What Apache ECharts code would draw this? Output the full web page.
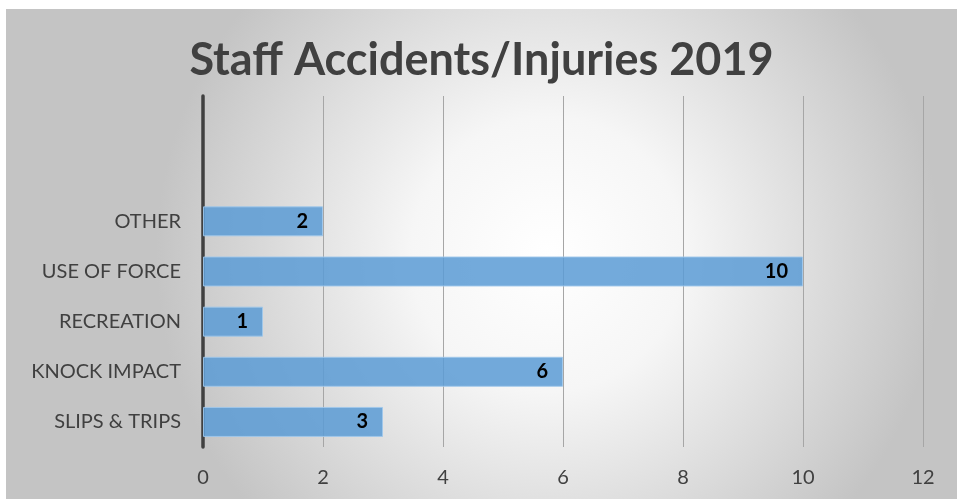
<!DOCTYPE html>
<html>
<head>
<meta charset="utf-8">
<script src="https://cdn.jsdelivr.net/npm/echarts@6/dist/echarts.min.js"></script>
<style>
  html, body { margin: 0; padding: 0; background: #fff; }
  #chart { position: absolute; left: 6px; top: 9px; width: 951px; height: 490px; }
</style>
</head>
<body>
<div id="chart"></div>
<script>
const categories = ['SLIPS & TRIPS', 'KNOCK IMPACT', 'RECREATION', 'USE OF FORCE', 'OTHER', '', ''];
const values = [3, 6, 1, 10, 2, null, null];
const xTicks = [0, 2, 4, 6, 8, 10, 12];

var myChart = echarts.init(document.getElementById('chart'));
myChart.setOption({
  backgroundColor: {
    type: 'radial',
    x: 0.57,
    y: 0.5,
    r: 0.8,
    colorStops: [{
      offset: 0, color: '#ffffff'
    }, {
      offset: 0.35, color: '#f6f6f6'
    }, {
      offset: 1, color: '#c4c4c4'
    }]
  },
  title: {
    text: 'Staff Accidents/Injuries 2019',
    left: 'center',
    top: 24,
    textStyle: {
      fontFamily: 'Lato',
      fontSize: 45,
      fontWeight: 'bold',
      color: '#404040'
    }
  },
  grid: {
    left: 197,
    right: 34,
    top: 87,
    bottom: 52
  },
  xAxis: {
    type: 'value',
    min: xTicks[0],
    max: xTicks[xTicks.length - 1],
    interval: 2,
    axisLabel: {
      color: '#404040',
      fontFamily: 'Lato',
      fontSize: 20,
      margin: 21
    },
    axisLine: { show: false },
    axisTick: { show: false },
    splitLine: {
      show: true,
      lineStyle: {
        color: '#a6a6a6',
        width: 1
      }
    }
  },
  yAxis: {
    type: 'category',
    data: categories,
    axisLine: {
      show: true,
      lineStyle: {
        color: '#404040',
        width: 3.5
      }
    },
    axisTick: { show: false },
    axisLabel: {
      color: '#404040',
      fontFamily: 'Lato',
      fontSize: 20,
      margin: 22
    }
  },
  series: [
    {
      type: 'bar',
      data: values,
      barWidth: 30,
      itemStyle: {
        color: 'rgba(91,155,213,0.85)',
        borderColor: 'rgba(160,200,235,0.9)',
        borderWidth: 1
      },
      label: {
        show: true,
        position: 'insideRight',
        distance: 15,
        color: '#000',
        fontFamily: 'Lato',
        fontSize: 20,
        fontWeight: 'bold'
      }
    }
  ]
});
</script>
</body>
</html>
